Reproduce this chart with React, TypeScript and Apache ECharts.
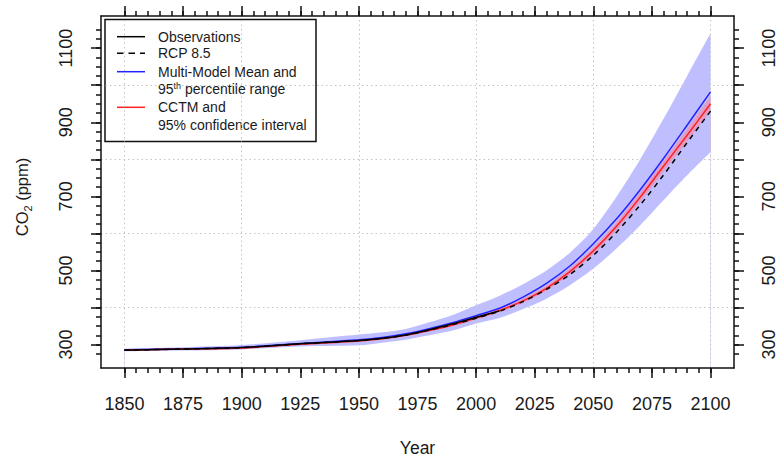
import React, { useEffect, useRef } from 'react';
import * as echarts from 'echarts';

// Sample years shared by the projection series and the uncertainty bands
const years = [1850, 1875, 1900, 1925, 1950, 1960, 1970, 1980, 1990, 2000, 2010, 2020, 2030, 2040, 2050, 2060, 2070, 2080, 2090, 2100];

// Observed CO2 record (ppm)
const obsYears = [1850, 1875, 1900, 1925, 1950, 1960, 1970, 1980, 1990, 2000, 2010];
const observations = [285, 288, 292, 302, 311, 317, 326, 340, 356, 374, 391];

// RCP 8.5 concentration pathway (ppm)
const rcp85 = [285, 288, 292, 302, 311, 317, 326, 339, 354, 371, 390, 416, 449, 489, 541, 604, 677, 758, 845, 930];

// Multi-model mean and its 95th percentile range (ppm)
const mmmMean = [286, 289, 293, 303, 313, 319, 329, 343, 359, 378, 398, 428, 465, 512, 572, 640, 718, 803, 892, 982];
const mmmLow = [282, 284, 287, 295, 298, 305, 313, 325, 338, 357, 372, 396, 424, 460, 505, 560, 622, 690, 757, 820];
const mmmHigh = [289, 293, 299, 312, 327, 333, 342, 360, 380, 406, 432, 463, 500, 548, 612, 700, 800, 910, 1025, 1140];

// CCTM projection and its 95% confidence interval (ppm)
const cctm = [285, 288, 291, 301, 310, 316, 325, 338, 353, 372, 392, 418, 452, 497, 553, 620, 698, 782, 865, 950];
const cctmLow = [283, 286, 289, 299, 308, 314, 323, 336, 350, 368, 387, 412, 445, 489, 544, 609, 685, 767, 848, 930];
const cctmHigh = [287, 290, 293, 303, 312, 318, 327, 340, 356, 376, 397, 424, 459, 505, 562, 631, 711, 797, 882, 970];

// Axis ticks, labels and grid positions
const xMajorTicks = [1850, 1875, 1900, 1925, 1950, 1975, 2000, 2025, 2050, 2075, 2100];
const xMinorTicks = Array.from({ length: 51 }, (_, i) => 1850 + i * 5);
const yMajorTicks = [300, 400, 500, 600, 700, 800, 900, 1000, 1100];
const yLabelTicks = [300, 500, 700, 900, 1100];
const yMinorTicks = Array.from({ length: 36 }, (_, i) => 275 + i * 25);
const gridYears = [1850, 1900, 1950, 2000, 2050, 2100];
const gridLevels = [400, 600, 800, 1000];

const X_MIN = 1840;
const X_MAX = 2110;
const Y_MIN = 236.8;
const Y_MAX = 1186.8;

const FONT = '"Liberation Sans", Arial, Helvetica, sans-serif';
const INK = '#1a1a1a';
const AXIS_LINE = { color: '#111', width: 1.5 };
const SMOOTH = 0.3;

// Opaque fills: percentile range, confidence interval over the range, and page background
const BAND_BLUE = '#bfbfff';
const BAND_PINK = '#e39bc6';
const PAGE = '#ffffff';

const pairs = (xs: number[], ys: number[]) => xs.map((x, i) => [x, ys[i]]);
const plain = (v: number) => String(v);

function xAxisDef(position: 'bottom' | 'top', ticks: number[], len: number, withLine: boolean, labels: number[] | null) {
  return {
    type: 'value',
    min: X_MIN,
    max: X_MAX,
    position,
    z: 10,
    axisLine: { show: withLine, onZero: false, lineStyle: AXIS_LINE },
    axisTick: { show: true, length: len, customValues: ticks, lineStyle: AXIS_LINE },
    axisLabel: labels
      ? { show: true, customValues: labels, formatter: plain, fontSize: 18, fontFamily: FONT, color: INK, margin: 27 }
      : { show: false },
    splitLine: { show: false },
  };
}

function yAxisDef(position: 'left' | 'right', ticks: number[], len: number, withLine: boolean, labels: number[] | null) {
  return {
    type: 'value',
    min: Y_MIN,
    max: Y_MAX,
    position,
    z: 10,
    axisLine: { show: withLine, onZero: false, lineStyle: AXIS_LINE },
    axisTick: { show: true, length: len, customValues: ticks, lineStyle: AXIS_LINE },
    axisLabel: labels
      ? { show: true, customValues: labels, formatter: plain, rotate: 90, fontSize: 18, fontFamily: FONT, color: INK, margin: 26 }
      : { show: false },
    splitLine: { show: false },
  };
}

// Filled area from a curve down to the bottom of the plot; layered so that
// each band shows between its upper and lower curve
function areaSeries(name: string, ys: number[], fill: string, z: number) {
  return {
    type: 'line',
    name,
    z,
    silent: true,
    xAxisIndex: 0,
    yAxisIndex: 0,
    data: pairs(years, ys),
    symbol: 'none',
    showSymbol: false,
    smooth: SMOOTH,
    lineStyle: { width: 0, opacity: 0 },
    areaStyle: { color: fill, opacity: 1, origin: 'start' },
  };
}

function lineSeries(name: string, xs: number[], ys: number[], color: string, z: number, dash?: number[]) {
  return {
    type: 'line',
    name,
    z,
    silent: true,
    xAxisIndex: 0,
    yAxisIndex: 0,
    data: pairs(xs, ys),
    symbol: 'none',
    showSymbol: false,
    smooth: SMOOTH,
    lineStyle: { color, width: 1.5, type: dash ?? 'solid' },
  };
}

const legendText = (text: string, y: number) => ({
  type: 'text',
  x: 158,
  y,
  silent: true,
  style: { text, fill: INK, fontSize: 14, fontFamily: FONT, verticalAlign: 'middle', align: 'left' },
});

const legendLine = (y: number, color: string, dash?: number[]) => ({
  type: 'line',
  silent: true,
  shape: { x1: 117, y1: y, x2: 145, y2: y },
  style: { stroke: color, lineWidth: 1.5, lineDash: dash ?? null },
});

const option: any = {
  animation: false,
  backgroundColor: '#fff',
  grid: { left: 101, right: 41, top: 16, bottom: 90 },
  xAxis: [
    {
      ...xAxisDef('bottom', xMajorTicks, 10, true, xMajorTicks),
      name: 'Year',
      nameLocation: 'middle',
      nameGap: 71,
      nameTextStyle: { fontSize: 17.5, fontFamily: FONT, color: INK },
    },
    xAxisDef('bottom', xMinorTicks, 5, false, null),
    xAxisDef('top', xMajorTicks, 10, true, null),
    xAxisDef('top', xMinorTicks, 5, false, null),
  ],
  yAxis: [
    yAxisDef('left', yMajorTicks, 10, true, yLabelTicks),
    yAxisDef('left', yMinorTicks, 5, false, null),
    yAxisDef('right', yMajorTicks, 10, true, yLabelTicks),
    yAxisDef('right', yMinorTicks, 5, false, null),
  ],
  series: [
    areaSeries('Multi-Model 95th percentile range (upper)', mmmHigh, BAND_BLUE, 1),
    areaSeries('CCTM 95% confidence interval (upper)', cctmHigh, BAND_PINK, 2),
    areaSeries('CCTM 95% confidence interval (lower)', cctmLow, BAND_BLUE, 3),
    areaSeries('Multi-Model 95th percentile range (lower)', mmmLow, PAGE, 4),
    {
      type: 'line',
      name: 'grid',
      z: 5,
      silent: true,
      data: [],
      symbol: 'none',
      markLine: {
        silent: true,
        symbol: 'none',
        label: { show: false },
        lineStyle: { color: '#c4c4c4', width: 1, type: [1.5, 3] },
        emphasis: { disabled: true },
        data: [
          ...gridYears.map((x) => ({ xAxis: x })),
          ...gridLevels.map((y) => ({ yAxis: y })),
        ],
      },
    },
    lineSeries('Multi-Model Mean', years, mmmMean, '#2323ff', 6),
    lineSeries('CCTM', years, cctm, '#ff2020', 7),
    lineSeries('Observations', obsYears, observations, '#000000', 8),
    lineSeries('RCP 8.5', years, rcp85, '#000000', 9, [5, 5]),
  ],
  graphic: [
    {
      type: 'rect',
      silent: true,
      shape: { x: 105, y: 19.5, width: 211, height: 122 },
      style: { fill: 'none', stroke: '#111', lineWidth: 1.5 },
    },
    legendLine(36.7, '#000'),
    legendLine(53.3, '#000', [6.5, 5]),
    legendLine(71.7, '#2323ff'),
    legendLine(107.3, '#ff2020'),
    legendText('Observations', 36.7),
    legendText('RCP 8.5', 53.3),
    legendText('Multi-Model Mean and', 71.7),
    {
      type: 'text',
      x: 158,
      y: 89.3,
      silent: true,
      style: {
        text: '{n|95}{s|th}{n| percentile range}',
        verticalAlign: 'middle',
        align: 'left',
        rich: {
          n: { fontSize: 14, fontFamily: FONT, fill: INK, lineHeight: 16 },
          s: { fontSize: 9, fontFamily: FONT, fill: INK, verticalAlign: 'top', lineHeight: 9 },
        },
      },
    },
    legendText('CCTM and', 107.3),
    legendText('95% confidence interval', 125),
    {
      type: 'text',
      x: 22,
      y: 197,
      rotation: Math.PI / 2,
      silent: true,
      style: {
        text: '{a|CO}{s|2}{a| (ppm)}',
        align: 'center',
        verticalAlign: 'middle',
        rich: {
          a: { fontSize: 16.5, fontFamily: FONT, fill: INK, lineHeight: 22 },
          s: { fontSize: 11, fontFamily: FONT, fill: INK, verticalAlign: 'bottom', lineHeight: 11 },
        },
      },
    },
  ],
};

export default function App() {
  const ref = useRef<HTMLDivElement>(null);
  useEffect(() => {
    if (!ref.current) return;
    const chart = echarts.init(ref.current, null, { renderer: 'svg' });
    chart.setOption(option);
    return () => chart.dispose();
  }, []);
  return (
    <div
      ref={ref}
      style={{ position: 'fixed', left: 0, top: 0, width: 778, height: 462, background: '#fff' }}
    />
  );
}
